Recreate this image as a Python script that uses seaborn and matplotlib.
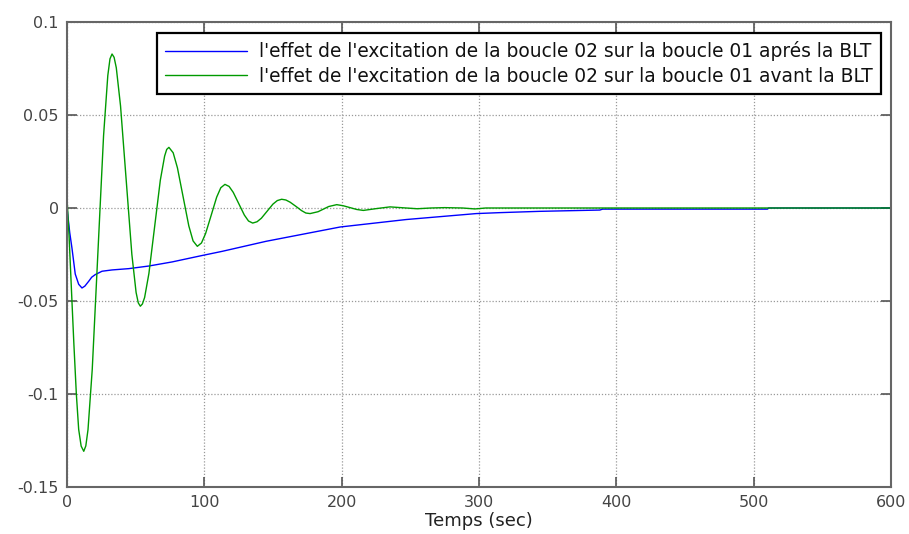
import numpy as np
import pandas as pd
import matplotlib
matplotlib.use("Agg")
import matplotlib.pyplot as plt
import seaborn as sns

# ---- data ----
t_green = [0.0, 0.4, 1.5, 3.6, 5.0, 6.8, 8.5, 10.3, 12.2,
           13.7, 15.29, 18.38, 22.5, 26.62, 29.71, 31.3, 32.8,
           34.3, 35.89, 38.98, 43.1, 47.22, 50.31, 51.9, 53.4,
           54.9, 56.52, 59.64, 63.8, 67.96, 71.08, 72.6, 74.2,
           77.31, 80.41, 84.55, 88.69, 91.8, 94.9,
           97.92, 100.93, 104.95, 108.97, 111.99, 115.0,
           118.03, 121.06, 125.1, 129.14, 132.17, 135.2,
           138.37, 141.53, 145.75, 149.97, 153.14, 156.3,
           159.4, 162.51, 166.65, 170.79, 173.9, 177.0,
           182.82, 186.7, 190.58, 196.4,
           201.2, 206.1, 211.0, 215.8,
           225.5, 235.2, 245.0, 255.0, 265.0, 275.0, 288.0, 297.0, 305.0, 320.0,
           400.0, 500.0, 600.0]
y_green = [0.0055, 0.0, -0.015, -0.050, -0.073, -0.100, -0.119, -0.128, -0.1308,
           -0.1279, -0.1192, -0.0868, -0.0240, 0.0388, 0.0712, 0.0802, 0.0828,
           0.0810, 0.0754, 0.0549, 0.0150, -0.0249, -0.0454, -0.0510, -0.0528,
           -0.0516, -0.0481, -0.0352, -0.0101, 0.0150, 0.0279, 0.0315, 0.0326,
           0.0297, 0.0216, 0.0060, -0.0096, -0.0177, -0.0206,
           -0.0188, -0.0137, -0.0040, 0.0058, 0.0109, 0.0127,
           0.0116, 0.0084, 0.0023, -0.0038, -0.0070, -0.0081,
           -0.0074, -0.0055, -0.0017, 0.0021, 0.0040, 0.0047,
           0.0043, 0.0031, 0.0009, -0.0014, -0.0027, -0.0030,
           -0.0020, -0.0006, 0.0008, 0.0018,
           0.0012, 0.0002, -0.0008, -0.0013,
           -0.0003, 0.0006, 0.0001, -0.0004, 0.0000, 0.0002, 0.0000, -0.0005, 0.0000, 0.0000,
           0.0, 0.0, 0.0]

t_blue = [0.0, 2.0, 3.6, 6.0, 8.5, 10.9, 13.0, 15.8, 18.0, 20.6, 25.5, 32.8,
          45.0, 59.5, 76.5, 98.0, 113.0, 145.0, 199.0, 247.0, 298.0, 315.0,
          344.0, 388.0, 390.0, 510.0, 511.0, 600.0]
y_blue = [0.0, -0.0133, -0.0215, -0.0355, -0.0410, -0.0430, -0.0420, -0.0394, -0.0372, -0.0358, -0.0340, -0.0333,
          -0.0326, -0.0312, -0.0290, -0.0256, -0.0233, -0.0179, -0.0102, -0.0062, -0.0030, -0.0025,
          -0.0018, -0.0011, -0.0006, -0.0006, 0.0, 0.0]

labels = ["l'effet de l'excitation de la boucle 02 sur la boucle 01 aprés la BLT",
          "l'effet de l'excitation de la boucle 02 sur la boucle 01 avant la BLT"]
x_ticks = [0, 100, 200, 300, 400, 500, 600]
y_ticks = [-0.15, -0.1, -0.05, 0, 0.05, 0.1]
y_tick_labels = ["-0.15", "-0.1", "-0.05", "0", "0.05", "0.1"]
x_label = "Temps (sec)"

# ---- plotting ----
sns.set_theme(style="white")
plt.rcParams['font.family'] = ['DejaVu Sans']

fig = plt.figure(figsize=(9.09, 5.34), dpi=100)
ax = fig.add_axes([67/909, 1 - 487/534, (891 - 67)/909, (487 - 22)/534])

df_blue = pd.DataFrame({"t": t_blue, "y": y_blue})
df_green = pd.DataFrame({"t": t_green, "y": y_green})
sns.lineplot(data=df_blue, x="t", y="y", ax=ax, color="#0000ff", linewidth=1.0,
             sort=False, estimator=None, label=labels[0])
sns.lineplot(data=df_green, x="t", y="y", ax=ax, color="#009a00", linewidth=1.0,
             sort=False, estimator=None, label=labels[1])

ax.set_xlim(0, 600)
ax.set_ylim(-0.15, 0.1)
ax.set_xticks(x_ticks)
ax.set_xticklabels([str(v) for v in x_ticks])
ax.set_yticks(y_ticks)
ax.set_yticklabels(y_tick_labels)
ax.set_xlabel(x_label, fontsize=13, color="#222222", labelpad=1)
ax.set_ylabel("")

ax.grid(True, linestyle=(0, (1, 1.5)), color="#999999", linewidth=0.9)
ax.tick_params(direction="in", length=7, width=1.2, colors="#555555",
               labelcolor="#444444", labelsize=11.5, top=True, right=True,
               bottom=True, left=True, pad=6)
for s in ax.spines.values():
    s.set_color("#666666")
    s.set_linewidth(1.5)

leg = ax.legend(loc="upper right", bbox_to_anchor=((881 - 67)/824, (487 - 33)/465),
                borderaxespad=0.0, fontsize=13.4, handlelength=4.4,
                frameon=True, fancybox=False, edgecolor="black",
                labelspacing=0.3, handletextpad=0.65, borderpad=0.45)
leg.get_frame().set_linewidth(1.6)
leg.get_frame().set_facecolor("white")
leg.get_frame().set_alpha(1.0)
for txt in leg.get_texts():
    txt.set_color("#111111")

fig.savefig("out.png", dpi=100)
